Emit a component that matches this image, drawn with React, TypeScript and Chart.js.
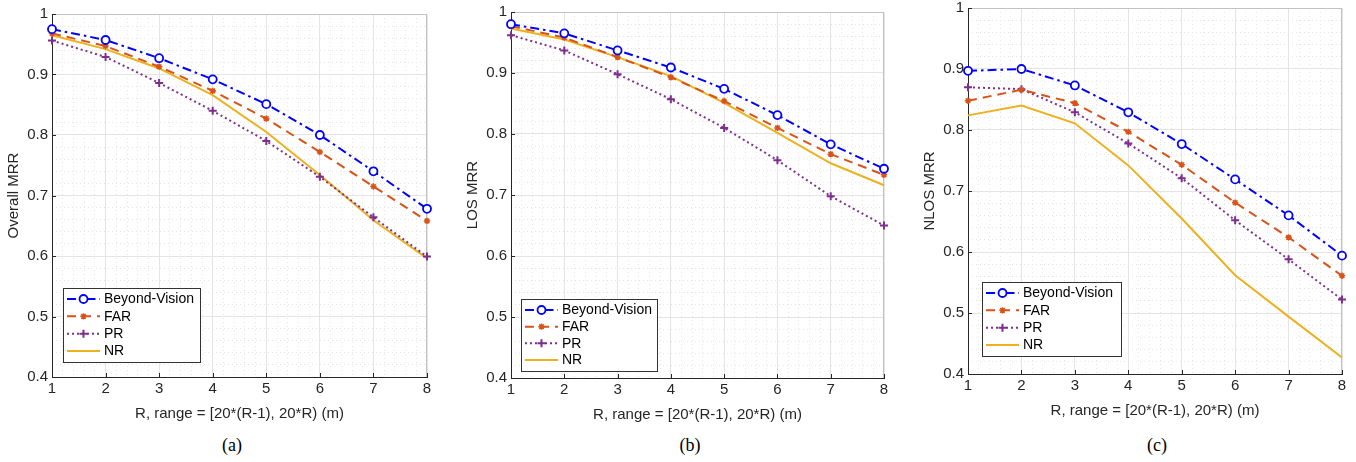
import React, { useEffect, useRef } from "react";
import { Chart, registerables } from "chart.js";
import { drawPoint } from "chart.js/helpers";

Chart.register(...registerables);

// ---------------- data ----------------
const R_VALUES = [1, 2, 3, 4, 5, 6, 7, 8];
const X_TICKS = [1, 2, 3, 4, 5, 6, 7, 8];
const Y_TICKS = [0.4, 0.5, 0.6, 0.7, 0.8, 0.9, 1];
const SERIES_NAMES = ["Beyond-Vision", "FAR", "PR", "NR"];
const X_TITLE = "R, range = [20*(R-1), 20*R) (m)";
const Y_TITLES = ["Overall MRR", "LOS MRR", "NLOS MRR"];
const CAPTIONS = ["(a)", "(b)", "(c)"];

const OVERALL_BV = [0.975, 0.957, 0.927, 0.892, 0.851, 0.8, 0.74, 0.678];
const OVERALL_FAR = [0.968, 0.947, 0.913, 0.873, 0.827, 0.772, 0.715, 0.658];
const OVERALL_PR = [0.956, 0.929, 0.886, 0.84, 0.79, 0.731, 0.664, 0.599];
const OVERALL_NR = [0.965, 0.942, 0.91, 0.866, 0.805, 0.734, 0.659, 0.596];

const LOS_BV = [0.98, 0.965, 0.937, 0.909, 0.874, 0.831, 0.783, 0.743];
const LOS_FAR = [0.977, 0.958, 0.926, 0.893, 0.854, 0.81, 0.767, 0.733];
const LOS_PR = [0.962, 0.937, 0.898, 0.857, 0.81, 0.757, 0.698, 0.65];
const LOS_NR = [0.973, 0.955, 0.926, 0.895, 0.851, 0.802, 0.752, 0.716];

const NLOS_BV = [0.897, 0.9, 0.873, 0.829, 0.777, 0.719, 0.66, 0.594];
const NLOS_FAR = [0.848, 0.866, 0.844, 0.797, 0.743, 0.681, 0.624, 0.561];
const NLOS_PR = [0.87, 0.867, 0.829, 0.778, 0.721, 0.652, 0.588, 0.522];
const NLOS_NR = [0.824, 0.84, 0.811, 0.742, 0.655, 0.562, 0.494, 0.427];

const PANEL_SERIES = [
  [OVERALL_BV, OVERALL_FAR, OVERALL_PR, OVERALL_NR],
  [LOS_BV, LOS_FAR, LOS_PR, LOS_NR],
  [NLOS_BV, NLOS_FAR, NLOS_PR, NLOS_NR],
];

// ---------------- styles / layout ----------------
const FONT = '"Liberation Sans", Arial, Helvetica, sans-serif';
const TEXT = "#262626";
const STYLES = [
  { color: "#0000ff", dash: [9, 4, 2.5, 4], pointStyle: "circle", radius: 4, pw: 1.8, lw: 2 },
  { color: "#d95319", dash: [9, 6], pointStyle: "star", radius: 3.2, pw: 1.5, lw: 2 },
  { color: "#7e2f8e", dash: [2, 3], pointStyle: "cross", radius: 4, pw: 2, lw: 2 },
  { color: "#edb120", dash: [], pointStyle: false, radius: 0, pw: 0, lw: 2 },
];

const Y_AXIS_W = 52;
const PAD_TOP = 14;
const PAD_RIGHT = 13;
const X_AXIS_H = 50;

const GEOM = [
  { plotLeft: 52, plotRight: 427, plotTop: 14, plotBottom: 377, legend: { dx: 11, dyBottom: 15, w: 137, h: 74 }, capX: 232 },
  { plotLeft: 511, plotRight: 884, plotTop: 12, plotBottom: 378, legend: { dx: 10, dyBottom: 7, w: 136, h: 72 }, capX: 690 },
  { plotLeft: 968, plotRight: 1342, plotTop: 8, plotBottom: 374, legend: { dx: 14, dyBottom: 18, w: 139, h: 74 }, capX: 1157 },
];

const frameTicks = {
  id: "frameTicks",
  beforeDatasetsDraw(chart: any) {
    const { ctx, chartArea } = chart;
    const xs = chart.scales.x;
    const ys = chart.scales.y;
    ctx.save();
    ctx.lineWidth = 1;
    ctx.strokeStyle = "#c2c2c2";
    ctx.beginPath();
    ctx.moveTo(chartArea.left, Math.round(chartArea.top) + 0.5);
    ctx.lineTo(chartArea.right, Math.round(chartArea.top) + 0.5);
    ctx.moveTo(Math.round(chartArea.right) - 0.5, chartArea.top);
    ctx.lineTo(Math.round(chartArea.right) - 0.5, chartArea.bottom);
    ctx.stroke();
    ctx.strokeStyle = TEXT;
    ctx.beginPath();
    X_TICKS.forEach((v) => {
      const px = Math.round(xs.getPixelForValue(v)) + 0.5;
      ctx.moveTo(px, chartArea.bottom);
      ctx.lineTo(px, chartArea.bottom - 4);
    });
    Y_TICKS.forEach((v) => {
      const py = Math.round(ys.getPixelForValue(v)) + 0.5;
      ctx.moveTo(chartArea.left, py);
      ctx.lineTo(chartArea.left + 4, py);
    });
    ctx.stroke();
    ctx.restore();
  },
};

const mlLegend = {
  id: "mlLegend",
  afterDraw(chart: any, _args: any, opts: any) {
    const { ctx, chartArea } = chart;
    const x0 = Math.round(chartArea.left + opts.dx);
    const y1 = Math.round(chartArea.bottom - opts.dyBottom);
    const y0 = y1 - opts.h;
    ctx.save();
    ctx.fillStyle = "#ffffff";
    ctx.fillRect(x0, y0, opts.w, opts.h);
    ctx.strokeStyle = "#333333";
    ctx.lineWidth = 1;
    ctx.strokeRect(x0 + 0.5, y0 + 0.5, opts.w, opts.h);
    const step = (opts.h - 22) / 3;
    chart.data.datasets.forEach((ds: any, i: number) => {
      const st = STYLES[i];
      const cy = y0 + 11 + i * step;
      ctx.setLineDash(st.dash);
      ctx.strokeStyle = st.color;
      ctx.lineWidth = st.lw;
      ctx.beginPath();
      ctx.moveTo(x0 + 4, cy);
      ctx.lineTo(x0 + 37, cy);
      ctx.stroke();
      ctx.setLineDash([]);
      if (st.pointStyle) {
        ctx.fillStyle = "#ffffff";
        ctx.strokeStyle = st.color;
        ctx.lineWidth = st.pw;
        drawPoint(ctx, { pointStyle: st.pointStyle, rotation: 0, radius: st.radius, borderWidth: st.pw }, x0 + 20.5, cy);
      }
      ctx.fillStyle = "#000000";
      ctx.font = `14px ${FONT}`;
      ctx.textBaseline = "middle";
      ctx.textAlign = "left";
      ctx.fillText(ds.label, x0 + 41, cy + 0.5);
    });
    ctx.restore();
  },
};

function fmt(v: number) {
  return String(Number(v.toFixed(2)));
}

function Panel({ idx }: { idx: number }) {
  const ref = useRef<HTMLCanvasElement | null>(null);
  const g = GEOM[idx];
  const left = g.plotLeft - Y_AXIS_W;
  const top = g.plotTop - PAD_TOP;
  const width = g.plotRight - left + PAD_RIGHT;
  const height = PAD_TOP + (g.plotBottom - g.plotTop) + X_AXIS_H;

  useEffect(() => {
    const series = PANEL_SERIES[idx];
    const chart = new Chart(ref.current as HTMLCanvasElement, {
      type: "line",
      data: {
        datasets: SERIES_NAMES.map((name, i) => ({
          label: name,
          data: R_VALUES.map((r, k) => ({ x: r, y: series[i][k] })),
          borderColor: STYLES[i].color,
          backgroundColor: "#ffffff",
          borderWidth: STYLES[i].lw,
          borderDash: STYLES[i].dash,
          pointStyle: STYLES[i].pointStyle as any,
          pointRadius: STYLES[i].radius,
          pointBorderWidth: STYLES[i].pw,
          pointBackgroundColor: "#ffffff",
          pointBorderColor: STYLES[i].color,
          tension: 0,
          clip: false as any,
        })),
      },
      options: {
        responsive: false,
        animation: false,
        devicePixelRatio: 1,
        layout: { padding: { top: PAD_TOP, right: PAD_RIGHT, left: 0, bottom: 0 } },
        plugins: {
          legend: { display: false },
          tooltip: { enabled: false },
          mlLegend: g.legend,
        } as any,
        scales: {
          x: {
            type: "linear",
            position: "bottom",
            min: 1,
            max: 8,
            afterBuildTicks: (s: any) => {
              s.ticks = X_TICKS.map((v) => ({ value: v }));
            },
            afterFit: (s: any) => {
              s.height = X_AXIS_H;
            },
            ticks: { color: TEXT, font: { family: FONT, size: 15 }, padding: 3, maxRotation: 0, autoSkip: false, callback: (v: any) => fmt(v) },
            grid: { color: "#e4e4e4", drawTicks: false, lineWidth: 1 },
            border: { display: true, color: TEXT, width: 1 },
            title: { display: true, text: X_TITLE, color: TEXT, font: { family: FONT, size: 15 }, padding: { top: 0, bottom: 4 } },
          },
          xMinor: {
            type: "linear",
            position: "bottom",
            min: 1,
            max: 8,
            ticks: { display: false, stepSize: 0.2 },
            grid: { color: "#e6e6e6", drawTicks: false, lineWidth: 1 },
            border: { display: false, dash: [1, 3] },
            afterFit: (s: any) => {
              s.height = 0;
            },
          },
          y: {
            type: "linear",
            position: "left",
            min: 0.4,
            max: 1,
            afterBuildTicks: (s: any) => {
              s.ticks = Y_TICKS.map((v) => ({ value: v }));
            },
            afterFit: (s: any) => {
              s.width = Y_AXIS_W;
            },
            ticks: { color: TEXT, font: { family: FONT, size: 15 }, padding: 4, callback: (v: any) => fmt(v) },
            grid: { color: "#e4e4e4", drawTicks: false, lineWidth: 1 },
            border: { display: true, color: TEXT, width: 1 },
            title: { display: true, text: Y_TITLES[idx], color: TEXT, font: { family: FONT, size: 15 }, padding: { top: 5, bottom: 0 } },
          },
          yMinor: {
            type: "linear",
            position: "left",
            min: 0.4,
            max: 1,
            ticks: { display: false, stepSize: 0.02 },
            grid: { color: "#e6e6e6", drawTicks: false, lineWidth: 1 },
            border: { display: false, dash: [1, 3] },
            afterFit: (s: any) => {
              s.width = 0;
            },
          },
        } as any,
      },
      plugins: [frameTicks, mlLegend],
    });
    return () => chart.destroy();
  }, [idx]);

  return (
    <canvas
      ref={ref}
      width={width}
      height={height}
      style={{ position: "absolute", left, top, width, height }}
    />
  );
}

export default function App() {
  return (
    <div style={{ position: "absolute", left: 0, top: 0, width: 1356, height: 462, background: "#ffffff", overflow: "hidden" }}>
      {[0, 1, 2].map((i) => (
        <Panel key={i} idx={i} />
      ))}
      {CAPTIONS.map((c, i) => (
        <div
          key={c}
          style={{
            position: "absolute",
            left: GEOM[i].capX - 30,
            width: 60,
            top: 434,
            textAlign: "center",
            fontFamily: '"Liberation Serif", "Times New Roman", serif',
            fontSize: 18,
            color: "#000",
            lineHeight: "22px",
          }}
        >
          {c}
        </div>
      ))}
    </div>
  );
}
